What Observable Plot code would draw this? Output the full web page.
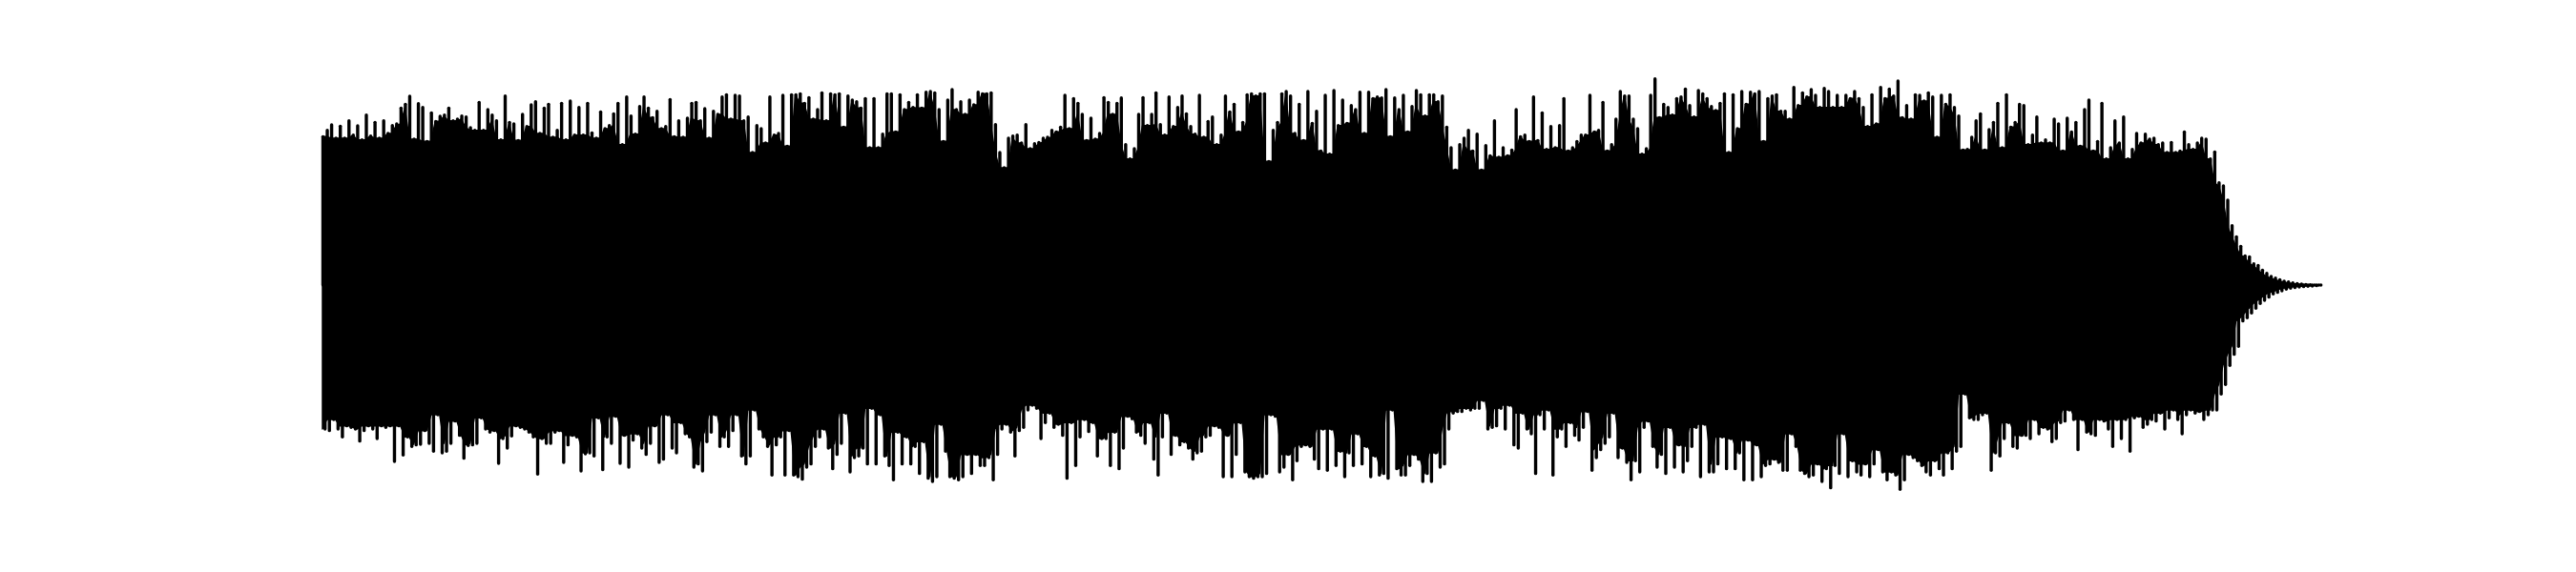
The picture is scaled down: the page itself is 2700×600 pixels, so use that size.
<!DOCTYPE html>
<html><head><meta charset="utf-8">
<script src="https://cdn.jsdelivr.net/npm/d3@7"></script>
<script src="https://cdn.jsdelivr.net/npm/@observablehq/plot@0.6"></script>
<style>html,body{margin:0;padding:0;background:#fff}</style>
</head><body><div id="chart"></div>
<script>
// Upper peak envelope of the waveform (signal amplitude units, full scale ±690), one value per time slot
const topPeaks = [
467,487,504,462,500,462,517,472,501,457,535,469,512,462,517,477,502,507,557,569,594,459,571,559,452,542,515,531,535,557,517,522,532,529,495,487,575,487,552,535,517,457,595,512,507,455,537,499,567,577,477,557,569,465,487,572,457,579,472,559,472,572,479,462,545,492,502,539,572,442,592,532,475,562,592,557,
527,547,492,499,584,467,517,465,525,572,575,517,555,462,547,537,592,599,522,597,595,517,529,417,502,492,447,592,472,477,597,437,599,599,602,572,590,522,552,605,517,602,599,602,497,595,582,577,557,587,432,587,432,475,602,602,482,599,552,575,559,599,557,607,609,605,552,452,582,615,552,577,537,582,567,607,602,
602,605,505,417,369,462,469,472,447,505,429,445,449,462,465,487,482,497,597,492,587,572,537,455,525,459,477,590,575,537,572,589,442,397,429,537,590,502,537,605,505,472,592,499,559,595,539,499,475,597,465,515,529,442,472,595,545,569,482,512,599,602,595,602,602,389,487,512,602,609,595,477,569,455,609,509,547,
422,597,412,612,502,582,509,565,552,607,477,607,587,592,589,615,467,589,552,597,482,562,612,599,532,599,599,577,595,497,432,362,442,462,487,422,475,362,439,407,517,402,432,407,425,552,467,472,452,592,455,542,427,499,432,502,587,422,432,452,472,472,597,482,487,575,422,442,522,609,595,595,522,492,412,429,597,
649,527,569,559,535,587,592,617,565,529,612,602,587,562,549,572,602,417,599,492,609,569,607,602,609,452,587,595,599,547,547,522,622,565,605,592,615,597,559,619,609,559,597,559,597,587,609,587,559,499,599,507,622,587,617,595,642,527,565,522,599,597,579,605,592,465,597,569,599,559,532,425,427,465,517,539,425,
489,512,572,432,599,497,512,569,565,442,472,529,447,457,447,522,507,422,525,482,512,437,552,582,422,452,572,397,432,517,447,529,397,427,477,447,475,459,462,442,447,417,449,417,422,482,442,427,447,462,459,397,419,322,312,267,187,152,122,92,89,67,62,47,37,27,22,17,12,10,7,5,3,2,1,0,0
];
// Lower peak envelope of the waveform, same time slots
const bottomPeaks = [
-453,-458,-423,-453,-478,-443,-448,-453,-491,-458,-443,-453,-483,-443,-448,-443,-555,-443,-535,-478,-508,-503,-501,-458,-498,-523,-408,-528,-523,-498,-428,-473,-545,-505,-503,-498,-418,-453,-463,-458,-561,-483,-513,-475,-443,-448,-453,-463,-478,-595,-483,-498,-498,-463,-458,-558,-503,-473,-478,-585,-531,-528,-538,-418,-581,-478,-498,-413,-561,-473,-573,-488,-468,-513,-533,-498,
-443,-558,-548,-408,-513,-528,-433,-468,-478,-573,-563,-585,-493,-463,-408,-508,-478,-508,-458,-408,-538,-563,-538,-393,-453,-478,-508,-598,-503,-478,-598,-458,-598,-603,-611,-573,-563,-508,-478,-453,-513,-578,-533,-498,-403,-588,-543,-538,-513,-563,-388,-563,-408,-538,-568,-613,-463,-563,-478,-563,-508,-593,-493,-608,-618,-603,-438,-523,-603,-608,-613,-603,-533,-593,-533,-568,-568,
-543,-613,-533,-453,-438,-463,-538,-458,-448,-393,-378,-388,-483,-433,-403,-448,-438,-473,-608,-433,-568,-478,-423,-461,-433,-538,-483,-483,-568,-463,-578,-513,-413,-421,-463,-473,-498,-433,-548,-598,-478,-403,-533,-473,-503,-493,-513,-548,-528,-523,-478,-473,-443,-448,-603,-473,-603,-533,-433,-588,-603,-608,-603,-603,-593,-408,-413,-588,-573,-533,-613,-553,-508,-503,-508,-548,-578,
-453,-583,-453,-568,-523,-603,-528,-568,-468,-563,-508,-603,-538,-598,-593,-608,-393,-578,-598,-598,-568,-533,-548,-618,-593,-618,-528,-573,-563,-453,-403,-398,-398,-388,-393,-388,-388,-363,-453,-448,-443,-388,-453,-378,-503,-513,-403,-453,-468,-593,-408,-453,-393,-598,-478,-453,-508,-433,-473,-488,-448,-398,-583,-543,-518,-498,-478,-403,-543,-513,-558,-613,-553,-588,-448,-428,-508,
-573,-533,-593,-448,-573,-503,-588,-553,-508,-448,-603,-438,-588,-588,-563,-478,-578,-483,-578,-528,-613,-488,-613,-503,-603,-568,-563,-548,-558,-583,-583,-468,-508,-583,-593,-603,-598,-563,-618,-578,-638,-568,-593,-468,-603,-553,-588,-598,-563,-603,-563,-518,-588,-613,-588,-598,-643,-613,-533,-543,-553,-568,-588,-598,-553,-578,-598,-528,-578,-523,-508,-343,-418,-423,-423,-408,-403,
-583,-528,-538,-483,-433,-508,-513,-473,-473,-483,-423,-468,-448,-453,-493,-483,-433,-428,-393,-423,-518,-423,-463,-468,-473,-423,-428,-453,-508,-423,-483,-423,-523,-418,-413,-448,-438,-423,-428,-403,-453,-418,-393,-423,-468,-408,-393,-403,-398,-423,-408,-393,-393,-343,-313,-253,-218,-193,-113,-103,-88,-73,-58,-48,-38,-28,-23,-18,-13,-10,-8,-6,-5,-4,-3,-2,0
];

const N = Math.min(topPeaks.length, bottomPeaks.length);
const rows = d3.range(N).map(i => {
  const lo = Math.max(0, i - 1), hi = Math.min(N - 1, i + 1);
  return {
    t: i,
    top: topPeaks[i],
    bottom: bottomPeaks[i],
    bodyTop: d3.min(topPeaks.slice(lo, hi + 1)),
    bodyBottom: d3.max(bottomPeaks.slice(lo, hi + 1))
  };
});

const chart = Plot.plot({
  width: 2700,
  height: 600,
  marginLeft: 338,
  marginRight: 270,
  marginTop: 69,
  marginBottom: 71,
  x: {domain: [0, N - 1], axis: null},
  y: {domain: [-690, 690], axis: null},
  marks: [
    Plot.areaY(rows, {x: "t", y1: "bodyBottom", y2: "bodyTop", fill: "black", stroke: "black", strokeWidth: 1.5, strokeLinejoin: "round"}),
    Plot.ruleX(rows, {x: "t", y1: 0, y2: "top", stroke: "black", strokeWidth: 3.4, strokeLinecap: "round"}),
    Plot.ruleX(rows, {x: "t", y1: 0, y2: "bottom", dx: 2.2, stroke: "black", strokeWidth: 3.4, strokeLinecap: "round"})
  ]
});
document.getElementById("chart").appendChild(chart);
</script>
</body></html>
